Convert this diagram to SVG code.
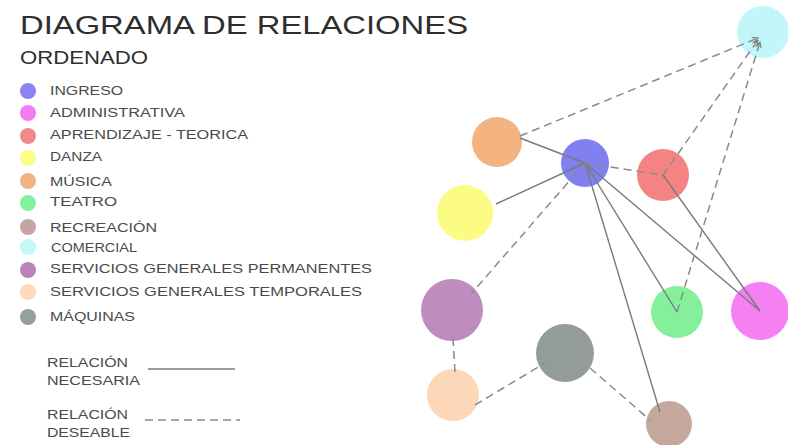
<svg xmlns="http://www.w3.org/2000/svg" width="788" height="445" viewBox="0 0 788 445">
<defs>
<style>
.t{font-family:"Liberation Sans",Arial,sans-serif;fill:#2e2e2e}
.lg{font-family:"Liberation Sans",Arial,sans-serif;font-size:12px;fill:#4a4a4a}
.s{stroke:#7a7a7a;stroke-width:1.4;fill:none}
.d{stroke:#8a8a8a;stroke-width:1.5;fill:none;stroke-dasharray:8 5}
</style>
<marker id="ah" viewBox="0 0 10 10" refX="9" refY="5" markerWidth="7" markerHeight="7" orient="auto-start-reverse" markerUnits="userSpaceOnUse">
<path d="M1,1 L9,5 L1,9" fill="none" stroke="#777" stroke-width="1.5"/>
</marker>
</defs>
<rect width="788" height="445" fill="#ffffff"/>
<text class="t" x="20" y="34" font-size="26" textLength="448" lengthAdjust="spacingAndGlyphs">DIAGRAMA DE RELACIONES</text>
<text class="t" x="20" y="64" font-size="18" textLength="128" lengthAdjust="spacingAndGlyphs">ORDENADO</text>
<g id="legend">
<circle cx="28" cy="91" r="8" fill="#8a84f0"/><text class="lg" x="50" y="95" textLength="73" lengthAdjust="spacingAndGlyphs">INGRESO</text>
<circle cx="28" cy="113" r="8" fill="#f07ef0"/><text class="lg" x="50" y="117" textLength="135" lengthAdjust="spacingAndGlyphs">ADMINISTRATIVA</text>
<circle cx="28" cy="136" r="8" fill="#f08a8a"/><text class="lg" x="50" y="139" textLength="198" lengthAdjust="spacingAndGlyphs">APRENDIZAJE - TEORICA</text>
<circle cx="28" cy="158" r="8" fill="#fdfc88"/><text class="lg" x="50" y="161" textLength="52" lengthAdjust="spacingAndGlyphs">DANZA</text>
<circle cx="28" cy="181" r="8" fill="#f4b482"/><text class="lg" x="50" y="186" textLength="62" lengthAdjust="spacingAndGlyphs">MÚSICA</text>
<circle cx="28" cy="203" r="8" fill="#84f0a0"/><text class="lg" x="50" y="206" textLength="67" lengthAdjust="spacingAndGlyphs">TEATRO</text>
<circle cx="28" cy="227" r="8" fill="#c4a4a4"/><text class="lg" x="50" y="232" textLength="107" lengthAdjust="spacingAndGlyphs">RECREACIÓN</text>
<circle cx="28" cy="247" r="8" fill="#c4f8f8"/><text class="lg" x="51" y="252" textLength="86" lengthAdjust="spacingAndGlyphs">COMERCIAL</text>
<circle cx="28" cy="270" r="8" fill="#b884b8"/><text class="lg" x="50" y="273" textLength="322" lengthAdjust="spacingAndGlyphs">SERVICIOS GENERALES PERMANENTES</text>
<circle cx="28" cy="292" r="8" fill="#fcd8bc"/><text class="lg" x="50" y="296" textLength="312" lengthAdjust="spacingAndGlyphs">SERVICIOS GENERALES TEMPORALES</text>
<circle cx="28" cy="317" r="8" fill="#94a09c"/><text class="lg" x="50" y="321" textLength="85" lengthAdjust="spacingAndGlyphs">MÁQUINAS</text>
<text class="lg" x="47" y="367" textLength="81" lengthAdjust="spacingAndGlyphs">RELACIÓN</text>
<text class="lg" x="47" y="385" textLength="93" lengthAdjust="spacingAndGlyphs">NECESARIA</text>
<line class="s" x1="148" y1="369" x2="235" y2="369"/>
<text class="lg" x="47" y="419" textLength="81" lengthAdjust="spacingAndGlyphs">RELACIÓN</text>
<text class="lg" x="47" y="437" textLength="83" lengthAdjust="spacingAndGlyphs">DESEABLE</text>
<line class="d" x1="145" y1="420" x2="240" y2="420"/>
</g>
<g id="n-comercial"><circle cx="763" cy="32" r="26" fill="#c2f6fa"/></g>
<g id="n-musica"><circle cx="497" cy="142" r="25" fill="#f4b482"/></g>
<g id="n-ingreso"><circle cx="585" cy="163" r="24" fill="#8080f0"/></g>
<g id="n-aprendizaje"><circle cx="663" cy="175" r="26" fill="#f48484"/></g>
<g id="n-danza"><circle cx="465" cy="213" r="28" fill="#fcfc84"/></g>
<g id="n-sgp"><circle cx="452" cy="310" r="31" fill="#c08cc0"/></g>
<g id="n-teatro"><circle cx="677" cy="312" r="26" fill="#84f09c"/></g>
<g id="n-administrativa"><circle cx="760" cy="311" r="29" fill="#f480f4"/></g>
<g id="n-maquinas"><circle cx="565" cy="353" r="29" fill="#949c9a"/></g>
<g id="n-sgt"><circle cx="453" cy="395" r="26" fill="#fcd8b8"/></g>
<g id="n-recreacion"><circle cx="669" cy="424" r="23" fill="#c4a89c"/></g>
<g id="connectors">
<line class="s" x1="520" y1="138" x2="585" y2="163"/>
<line class="s" x1="496" y1="204" x2="585" y2="163"/>
<line class="s" x1="585" y1="163" x2="677" y2="312"/>
<line class="s" x1="585" y1="163" x2="760" y2="311"/>
<line class="s" x1="585" y1="163" x2="660" y2="412"/>
<line class="s" x1="663" y1="175" x2="760" y2="311"/>
<line class="d" x1="520" y1="136" x2="758" y2="38" marker-end="url(#ah)"/>
<line class="d" x1="663" y1="175" x2="758" y2="40" marker-end="url(#ah)"/>
<line class="d" x1="677" y1="312" x2="760" y2="42" marker-end="url(#ah)"/>
<line class="d" x1="585" y1="163" x2="663" y2="175"/>
<line class="d" x1="585" y1="163" x2="471" y2="294"/>
<line class="d" x1="453" y1="338" x2="455" y2="372"/>
<line class="d" x1="475" y1="405" x2="545" y2="363"/>
<line class="d" x1="590" y1="368" x2="650" y2="420"/>
</g>
</svg>
